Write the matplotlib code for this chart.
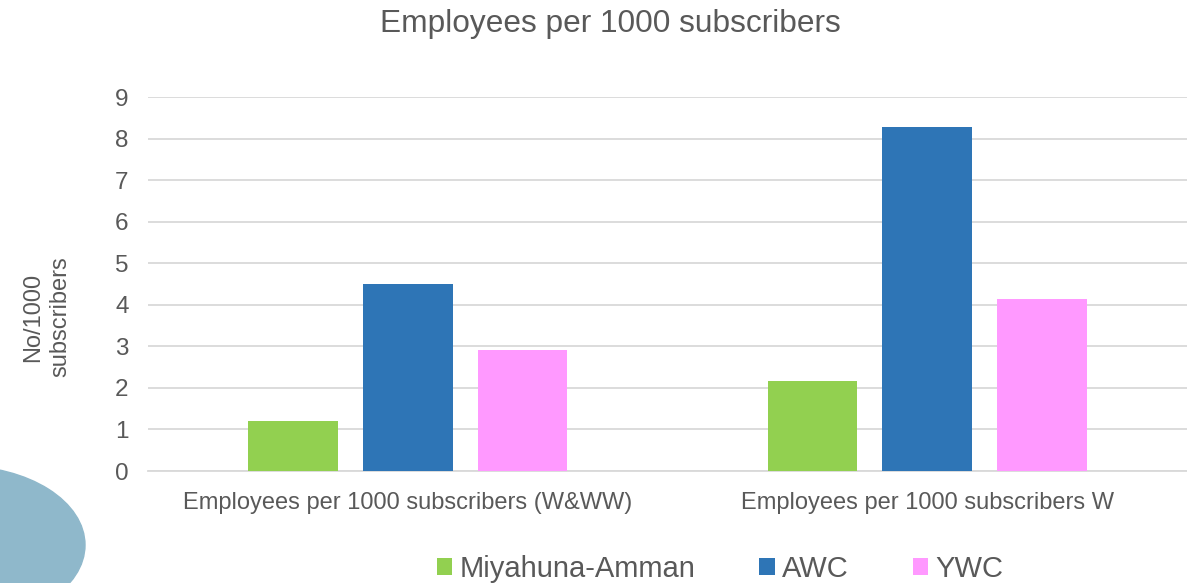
import numpy as np
import matplotlib.pyplot as plt
from matplotlib.patches import Ellipse

plt.rcParams['font.family'] = ['Liberation Sans', 'DejaVu Sans']

categories = ["Employees per 1000 subscribers (W&WW)", "Employees per 1000 subscribers W"]
series_names = ["Miyahuna-Amman", "AWC", "YWC"]
miyahuna = [1.2, 2.17]
awc = [4.5, 8.27]
ywc = [2.9, 4.15]
colors = ["#92d050", "#2e75b6", "#ff99ff"]
text_color = "#595959"
grid_color = "#d9d9d9"

fig = plt.figure(figsize=(11.87, 5.83), dpi=100)
ax = fig.add_axes([148 / 1187, 1 - 471 / 583, 1 - 148 / 1187, (471 - 97) / 583])

x = np.arange(len(categories))
width = 0.173
step = 0.221
for i, (name, vals) in enumerate(zip(series_names, [miyahuna, awc, ywc])):
    ax.bar(x + (i - 1) * step, vals, width, color=colors[i], label=name, zorder=3)

ax.set_xlim(-0.5, len(categories) - 0.5)
ax.set_ylim(0, 9)
ax.set_yticks(range(10))
ax.set_xticks(x)
ax.set_xticklabels(categories)
ax.yaxis.grid(True, color=grid_color, linewidth=1.3, zorder=0)
for s in ["top", "right", "left"]:
    ax.spines[s].set_visible(False)
ax.spines["bottom"].set_color(grid_color)
ax.spines["bottom"].set_linewidth(1.3)
ax.tick_params(axis="both", length=0, colors=text_color)
ax.tick_params(axis="y", labelsize=17.5, pad=14)
ax.tick_params(axis="x", labelsize=17, pad=15)

fig.text(610 / 1187, 1 - 24 / 583, "Employees per 1000 subscribers", ha="center", va="center",
         fontsize=22.8, color=text_color)
fig.text(47 / 1187, 1 - 317 / 583, "No/1000\nsubscribers", ha="center", va="center",
         rotation=90, fontsize=17, color=text_color, linespacing=1.33)

leg = fig.legend(loc="center", bbox_to_anchor=(720 / 1187, 1 - 569 / 583), ncol=3, frameon=False,
                 fontsize=21, handlelength=0.53, handleheight=0.53, handletextpad=0.24,
                 columnspacing=2.2)
for t in leg.get_texts():
    t.set_color(text_color)

fig.add_artist(Ellipse((-40 / 1187, 1 - 545 / 583), 250 / 1187, 158 / 583,
                       transform=fig.transFigure, color="#8fb8cb", zorder=0))

fig.savefig("out.png", dpi=100)
